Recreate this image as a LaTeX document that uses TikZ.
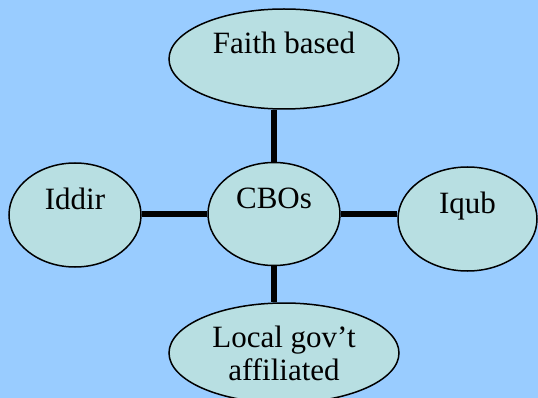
\documentclass[tikz,border=0pt]{standalone}
\usepackage{fontspec}
\setmainfont{Liberation Serif}
\usetikzlibrary{shapes.geometric}

\definecolor{skyback}{RGB}{153,204,255}
\definecolor{paleteal}{RGB}{184,223,226}

\begin{document}
\begin{tikzpicture}[x=1pt,y=-1pt,
    blob/.style={ellipse,draw=black,line width=1.5pt,fill=paleteal,
      inner sep=2pt,font=\fontsize{31}{33}\selectfont},
    lifted/.style={text height=21pt,text depth=31pt},
    link/.style={line width=5.5pt}]
  % Background
  \useasboundingbox (0,0) rectangle (538,398);
  \clip (0,0) rectangle (538,398);
  \fill[skyback] (0,0) rectangle (538,398);

  % Ellipses
  \node[blob,lifted,minimum width=230pt,minimum height=100pt] (faith) at (284,59) {Faith based};
  \node[blob,lifted,minimum width=132pt,minimum height=104pt] (iddir) at (75,215) {Iddir};
  \node[blob,lifted,minimum width=132pt,minimum height=103pt] (cbo) at (274,214) {CBOs};
  \node[blob,lifted,minimum width=139pt,minimum height=104pt] (iqub) at (467.5,219) {Iqub};
  \node[blob,align=center,minimum width=230pt,minimum height=100pt] (local) at (284,353)
    {Local gov’t\\affiliated};

  % Links
  \draw[link] (cbo.north) -- (cbo.north |- faith.south);
  \draw[link] (cbo.south) -- (cbo.south |- local.north);
  \draw[link] (cbo.west) -- (cbo.west -| iddir.east);
  \draw[link] (cbo.east) -- (cbo.east -| iqub.west);
\end{tikzpicture}
\end{document}
